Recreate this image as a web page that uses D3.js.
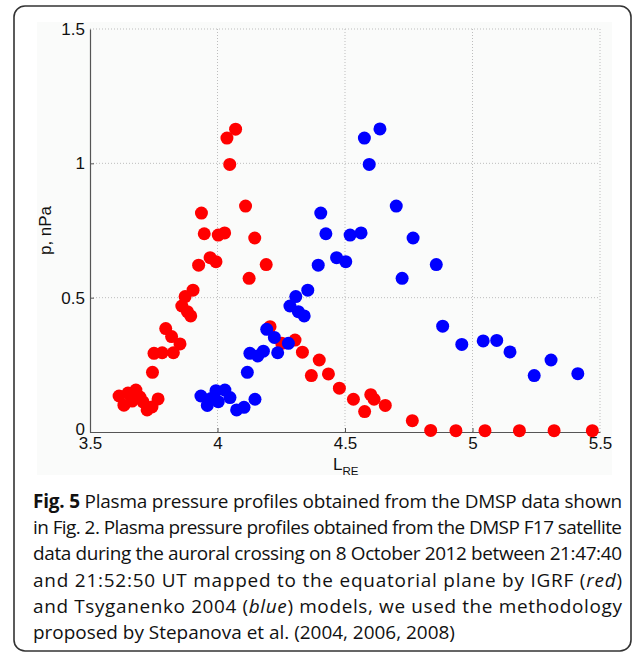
<!DOCTYPE html>
<html>
<head>
<meta charset="utf-8">
<script src="https://cdn.jsdelivr.net/npm/d3@7"></script>
<style>
  body { margin: 0; background: #fff; }
  svg { display: block; }
</style>
</head>
<body>
<div class="graph"></div>
<script>
const width = 633;
const height = 653;

// plot box in page pixels
const left = 90;
const right = 600;
const top_ = 29;
const bottom = 432;

const xTicks = [3.5, 4, 4.5, 5, 5.5];
const yTicks = [0, 0.5, 1, 1.5];

// IGRF mapping (red): [L, p]
const igrf = [
  [3.614, 0.134], [3.633, 0.100], [3.649, 0.145], [3.665, 0.115],
  [3.680, 0.156], [3.696, 0.130], [3.708, 0.112], [3.724, 0.082],
  [3.743, 0.093], [3.767, 0.123], [3.745, 0.222], [3.751, 0.293],
  [3.783, 0.295], [3.827, 0.295], [3.853, 0.328], [3.820, 0.355],
  [3.797, 0.385], [3.860, 0.469], [3.873, 0.504], [3.882, 0.448],
  [3.895, 0.432], [3.904, 0.528], [3.926, 0.621], [3.971, 0.649],
  [3.994, 0.634], [3.937, 0.815], [3.948, 0.738], [4.003, 0.733],
  [4.028, 0.741], [4.037, 1.094], [4.071, 1.127], [4.048, 0.996],
  [4.110, 0.841], [4.146, 0.722], [4.124, 0.572], [4.191, 0.623],
  [4.206, 0.392], [4.252, 0.330], [4.304, 0.342], [4.333, 0.297],
  [4.399, 0.268], [4.368, 0.210], [4.435, 0.216], [4.478, 0.163],
  [4.533, 0.122], [4.601, 0.139], [4.614, 0.122], [4.658, 0.099],
  [4.577, 0.076], [4.764, 0.042], [4.836, 0.006], [4.935, 0.005],
  [5.049, 0.005], [5.184, 0.005], [5.320, 0.005], [5.470, 0.005],
];

// Tsyganenko 2004 mapping (blue): [L, p]
const ts04 = [
  [3.935, 0.134], [3.960, 0.099], [3.975, 0.125], [3.994, 0.154],
  [4.003, 0.113], [4.029, 0.156], [4.049, 0.128], [4.075, 0.082],
  [4.104, 0.092], [4.147, 0.122], [4.117, 0.222], [4.127, 0.293],
  [4.158, 0.283], [4.180, 0.301], [4.193, 0.382], [4.223, 0.352],
  [4.236, 0.295], [4.278, 0.330], [4.284, 0.469], [4.307, 0.504],
  [4.317, 0.448], [4.340, 0.432], [4.354, 0.528], [4.395, 0.621],
  [4.405, 0.815], [4.425, 0.738], [4.467, 0.649], [4.503, 0.634],
  [4.520, 0.733], [4.563, 0.741], [4.576, 1.094], [4.637, 1.128],
  [4.595, 0.996], [4.701, 0.841], [4.724, 0.572], [4.767, 0.722],
  [4.858, 0.623], [4.883, 0.394], [4.958, 0.326], [5.042, 0.339],
  [5.095, 0.341], [5.147, 0.298], [5.242, 0.210], [5.308, 0.268],
  [5.413, 0.217],
];

const captionLines = [
  "Plasma pressure profiles obtained from the DMSP data shown",
  "in Fig. 2. Plasma pressure profiles obtained from the DMSP F17 satellite",
  "data during the auroral crossing on 8 October 2012 between 21:47:40",
  "and 21:52:50 UT mapped to the equatorial plane by IGRF (|red|)",
  "and Tsyganenko 2004 (|blue|) models, we used the methodology",
  "proposed by Stepanova et al. (2004, 2006, 2008)",
];

const svg = d3
  .select(".graph")
  .append("svg")
  .attr("width", width)
  .attr("height", height);

// outer frame and grey panel
svg
  .append("rect")
  .attr("x", 14)
  .attr("y", 6)
  .attr("width", 617)
  .attr("height", 645)
  .attr("rx", 11)
  .attr("fill", "#fff")
  .attr("stroke", "#333")
  .attr("stroke-width", 1.6);

svg
  .append("rect")
  .attr("x", 37)
  .attr("y", 22)
  .attr("width", 575)
  .attr("height", 453)
  .attr("fill", "#fafbfa");

const xScale = d3.scaleLinear().domain([3.5, 5.5]).range([left, right]);
const yScale = d3.scaleLinear().domain([0, 1.5]).range([bottom, top_]);

// dotted grid
svg
  .append("g")
  .selectAll("line")
  .data(xTicks.slice(1))
  .enter()
  .append("line")
  .attr("x1", (d) => xScale(d))
  .attr("x2", (d) => xScale(d))
  .attr("y1", bottom)
  .attr("y2", top_)
  .attr("stroke", "#bdbdbd")
  .attr("stroke-dasharray", "1,2");

svg
  .append("g")
  .selectAll("line")
  .data(yTicks.slice(1))
  .enter()
  .append("line")
  .attr("x1", left)
  .attr("x2", right)
  .attr("y1", (d) => yScale(d))
  .attr("y2", (d) => yScale(d))
  .attr("stroke", "#bdbdbd")
  .attr("stroke-dasharray", "1,2");

const xAxis = d3
  .axisBottom(xScale)
  .tickValues(xTicks)
  .tickFormat(d3.format("~g"))
  .tickSizeInner(-4)
  .tickSizeOuter(0)
  .tickPadding(6);
const yAxis = d3
  .axisLeft(yScale)
  .tickValues(yTicks)
  .tickFormat(d3.format("~g"))
  .tickSizeInner(-4)
  .tickSizeOuter(0)
  .tickPadding(5);

const gx = svg
  .append("g")
  .attr("transform", "translate(0," + bottom + ")")
  .call(xAxis);
const gy = svg
  .append("g")
  .attr("transform", "translate(" + left + ",0)")
  .call(yAxis);

[gx, gy].forEach((g) => {
  g.attr("font-family", "'Liberation Sans', Arial, sans-serif").attr("font-size", 17);
  g.select(".domain").attr("stroke", "#555").attr("stroke-width", 1.2);
  g.selectAll(".tick line").attr("stroke", "#555");
  g.selectAll(".tick text").attr("fill", "#111");
});
gx.selectAll(".tick text").attr("dy", "0.66em");
gy.selectAll(".tick text").filter((d) => d === 0).attr("dy", "0.15em");
// the ticks at the very top/right sit on the dotted grid
gx.selectAll(".tick line").filter((d) => d === 5.5).remove();
gy.selectAll(".tick line").filter((d) => d === 1.5).remove();

// axis labels
svg
  .append("text")
  .attr("transform", "translate(51," + (top_ + bottom) / 2 + ") rotate(-90)")
  .attr("text-anchor", "middle")
  .style("font-family", "'Liberation Sans', Arial, sans-serif")
  .style("font-size", "17px")
  .attr("fill", "#111")
  .text("p, nPa");

const xl = svg
  .append("text")
  .attr("x", 333)
  .attr("y", 470)
  .style("font-family", "'Liberation Sans', Arial, sans-serif")
  .style("font-size", "17px")
  .attr("fill", "#111");
xl.append("tspan").text("L");
xl.append("tspan")
  .attr("dy", 5)
  .style("font-size", "11.5px")
  .text("RE");

// points: red first, blue on top
svg
  .append("g")
  .selectAll("circle")
  .data(igrf)
  .enter()
  .append("circle")
  .attr("cx", (d) => xScale(d[0]))
  .attr("cy", (d) => yScale(d[1]))
  .attr("r", 6.5)
  .attr("fill", "#ff0000");

svg
  .append("g")
  .selectAll("circle")
  .data(ts04)
  .enter()
  .append("circle")
  .attr("cx", (d) => xScale(d[0]))
  .attr("cy", (d) => yScale(d[1]))
  .attr("r", 6.5)
  .attr("fill", "#0000ff");

// caption: font size picked so the last (ragged) line is ~422px wide,
// the other lines are justified to the full width
const fullWidth = 589;
const lastWidth = 422;
const caption = svg
  .append("g")
  .style("font-family", "'Open Sans', sans-serif")
  .style("font-size", "18px")
  .attr("fill", "#111");

const texts = captionLines.map((line, i) => {
  const t = caption
    .append("text")
    .attr("x", 33)
    .attr("y", 508 + i * 26.2);
  if (i === 0) {
    t.append("tspan").style("font-weight", "bold").text("Fig. 5 ");
  }
  line.split("|").forEach((part, j) => {
    const s = t.append("tspan").text(part);
    if (j % 2 === 1) s.style("font-style", "italic");
  });
  return t;
});

const natural = texts[texts.length - 1].node().getComputedTextLength();
const fs = Math.min(20, Math.max(15, (18 * lastWidth) / natural));
caption.style("font-size", fs + "px");
texts.forEach((t, i) => {
  if (i < texts.length - 1) {
    t.attr("textLength", fullWidth).attr("lengthAdjust", "spacing");
  }
});
</script>
</body>
</html>
